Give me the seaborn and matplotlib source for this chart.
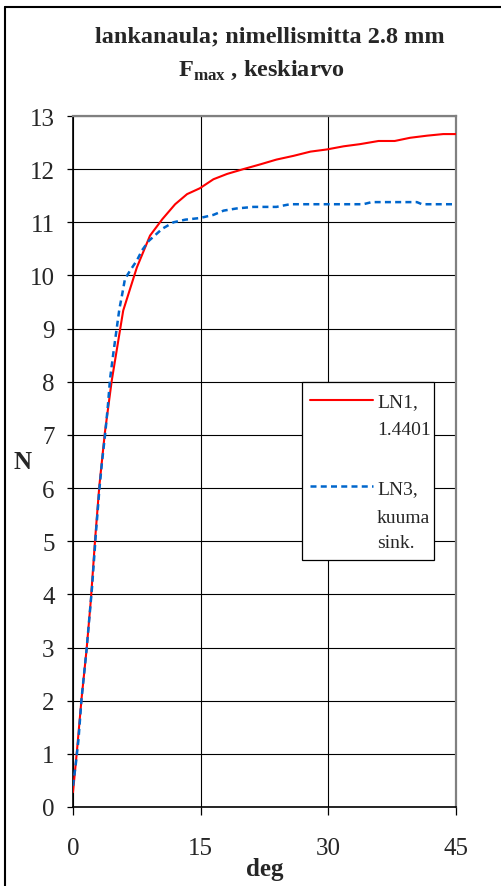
import matplotlib
matplotlib.use("Agg")
import matplotlib.pyplot as plt
from matplotlib.lines import Line2D
from matplotlib.patches import Rectangle
import numpy as np
import pandas as pd
import seaborn as sns

# Pull-out force of wire nails vs. bending angle (mean values)
ln1_deg = [0, 0.45, 1.0, 1.6, 2.1, 2.6, 3.1, 3.75, 4.55, 5.9, 7.5, 9.05, 10.5, 12.0,
           13.4, 14.9, 16.5, 18.1, 20.0, 22.0, 23.9, 25.9, 27.9, 29.8, 31.8, 33.7,
           35.9, 37.8, 39.6, 41.6, 43.5, 45.0]
ln1_n = [0.28, 1.03, 2.03, 2.97, 3.9, 5.04, 6.05, 7.05, 8.02, 9.34, 10.15, 10.75,
         11.06, 11.34, 11.53, 11.64, 11.81, 11.91, 12.0, 12.09, 12.18, 12.25, 12.33,
         12.37, 12.43, 12.47, 12.53, 12.53, 12.59, 12.63, 12.66, 12.66]

ln3_deg = [0, 0.35, 0.65, 1.0, 1.6, 2.25, 2.7, 3.1, 3.4, 3.8, 4.1, 4.35, 4.75, 5.15,
           5.45, 5.75, 6.1, 6.7, 7.5, 8.1, 8.9, 10.5, 11.8, 13.2, 14.9, 16.5, 17.7,
           19.2, 21.2, 23.9, 25.5, 29.8, 34.1, 35.1, 40.4, 41.0, 45.0]
ln3_n = [0.4, 0.84, 1.28, 2.03, 2.97, 4.16, 5.17, 5.98, 6.48, 7.05, 7.55, 8.05, 8.55,
         9.02, 9.37, 9.62, 9.93, 10.09, 10.28, 10.47, 10.65, 10.88, 11.0, 11.05, 11.08,
         11.14, 11.22, 11.26, 11.29, 11.29, 11.34, 11.34, 11.34, 11.38, 11.38, 11.34,
         11.34]

x_ticks = [0, 15, 30, 45]
y_ticks = list(range(0, 14))

title_line1 = "lankanaula; nimellismitta 2.8 mm"
title_line2 = r"F$_{\mathbf{max}}$ , keskiarvo"
legend_ln1 = ["LN1,", "1.4401"]
legend_ln3 = ["LN3,", "kuuma", "sink."]

sns.set_theme(style="white")
plt.rcParams["font.family"] = ["Liberation Serif", "DejaVu Serif"]
plt.rcParams["mathtext.fontset"] = "custom"
plt.rcParams["mathtext.rm"] = "Liberation Serif"
plt.rcParams["mathtext.bf"] = "Liberation Serif:bold"

W, H = 501, 887
fig = plt.figure(figsize=(W / 100, H / 100), dpi=100)
fig.patch.set_facecolor("white")

L, R, T, B = 73, 456, 117, 808
ax = fig.add_axes([L / W, 1 - B / H, (R - L) / W, (B - T) / H])

df1 = pd.DataFrame({"deg": ln1_deg, "N": ln1_n})
df3 = pd.DataFrame({"deg": ln3_deg, "N": ln3_n})
RED = "#FF0000"
BLUE = "#0066CC"
sns.lineplot(data=df1, x="deg", y="N", ax=ax, color=RED, linewidth=1.5,
             estimator=None, zorder=3)
sns.lineplot(data=df3, x="deg", y="N", ax=ax, color=BLUE, linewidth=1.8,
             linestyle=(0, (2.4, 1.7)), estimator=None, zorder=3)

ax.set_xlim(0, 45)
ax.set_ylim(0, 13)
ax.set_xticks(x_ticks)
ax.set_yticks(y_ticks)
ax.grid(True, color="black", linewidth=0.8)
ax.set_axisbelow(True)

for side in ("left", "bottom"):
    ax.spines[side].set_color("black")
    ax.spines[side].set_linewidth(1.2)
for side in ("top", "right"):
    ax.spines[side].set_color("#808080")
    ax.spines[side].set_linewidth(1.6)
    ax.spines[side].set_visible(True)

ax.tick_params(axis="x", direction="out", length=5.8, width=0.9, color="black",
               pad=16, labelsize=18, bottom=True)
ax.tick_params(axis="y", direction="out", length=4.3, width=0.9, color="black",
               pad=9, labelsize=18, left=True)

ax.set_xlabel("deg", fontsize=18, fontweight="bold")
ax.xaxis.set_label_coords(0.5, -0.0897)
ax.xaxis.label.set_verticalalignment("center")
ax.set_ylabel("N", fontsize=18, fontweight="bold", rotation=0)
ax.yaxis.set_label_coords((23 - L) / (R - L), 0.5)
ax.yaxis.label.set_verticalalignment("center")
ax.yaxis.label.set_horizontalalignment("center")

# titles
fig.text(270 / W, 1 - 37 / H, title_line1, ha="center", va="center",
         fontsize=17.5, fontweight="bold")
fig.text(262 / W, 1 - 70 / H, title_line2, ha="center", va="center",
         fontsize=17.5, fontweight="bold")

# legend box
def ax_x(px):
    return (px - L) / (R - L)

def ax_y(py):
    return (B - py) / (B - T)

box = Rectangle((ax_x(302), ax_y(561)), ax_x(434) - ax_x(302), ax_y(383) - ax_y(561),
                transform=ax.transAxes, facecolor="white", edgecolor="black",
                linewidth=0.9, zorder=5)
ax.add_patch(box)
ax.add_line(Line2D([ax_x(310), ax_x(373)], [ax_y(401)] * 2, transform=ax.transAxes,
                   color=RED, linewidth=1.5, zorder=6))
ax.add_line(Line2D([ax_x(310), ax_x(373)], [ax_y(487)] * 2, transform=ax.transAxes,
                   color=BLUE, linewidth=1.8, linestyle=(0, (2.4, 1.7)), zorder=6))
for txt, base in zip(legend_ln1 + legend_ln3, [407, 435, 494, 523, 548]):
    ax.text(ax_x(377), ax_y(base), txt, transform=ax.transAxes, ha="left",
            va="baseline", fontsize=14, zorder=7)

# outer chart frame
fig.add_artist(Line2D([5 / W, 1.0], [1 - 8 / H] * 2, transform=fig.transFigure,
                      color="black", linewidth=1.5))
fig.add_artist(Line2D([5 / W] * 2, [0.0, 1 - 8 / H], transform=fig.transFigure,
                      color="black", linewidth=1.5))

fig.savefig("out.png", dpi=100)
